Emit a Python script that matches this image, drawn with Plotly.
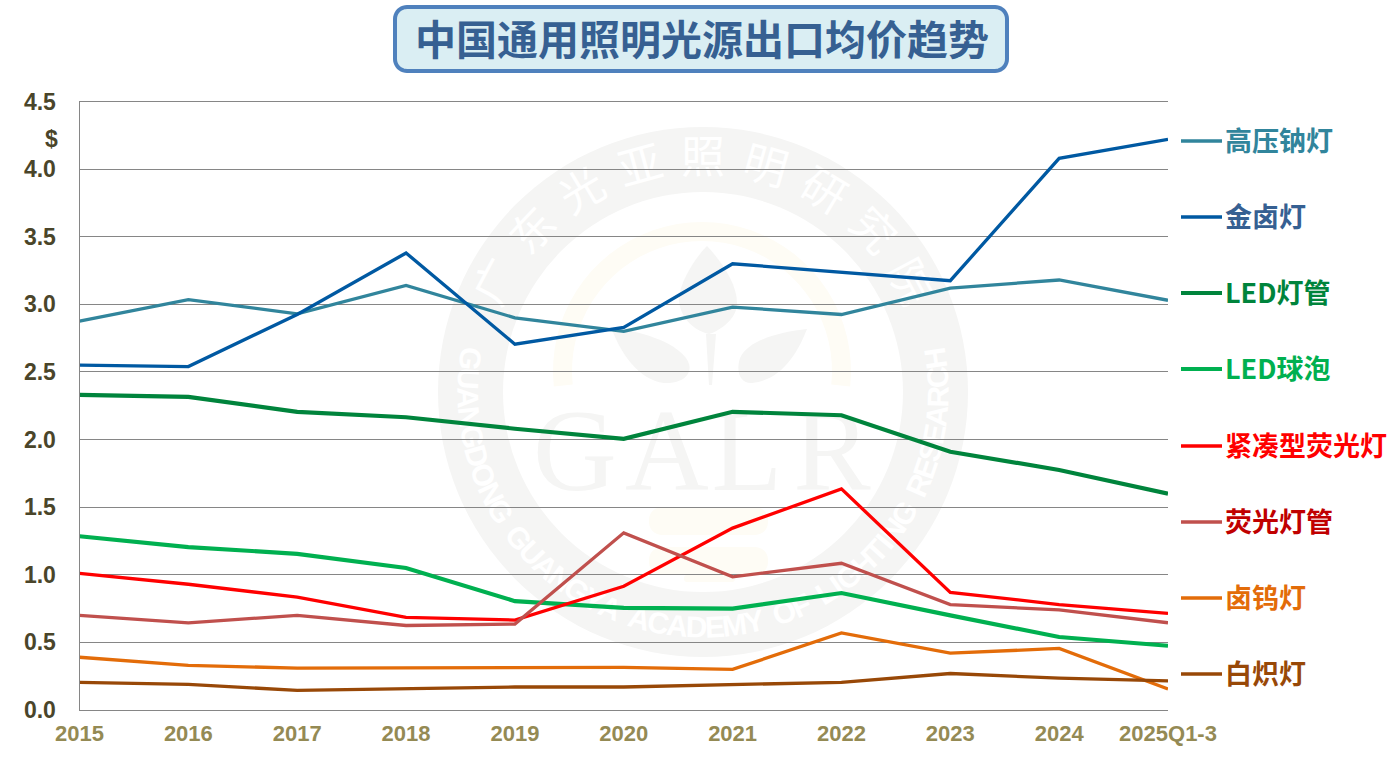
import math
import plotly.graph_objects as go

W, H = 1398, 780

years = ["2015", "2016", "2017", "2018", "2019", "2020", "2021", "2022", "2023", "2024", "2025Q1-3"]

hps_sodium = [2.875, 3.035, 2.93, 3.14, 2.90, 2.80, 2.98, 2.925, 3.12, 3.18, 3.03]
metal_halide = [2.55, 2.54, 2.925, 3.38, 2.705, 2.83, 3.30, 3.235, 3.175, 4.08, 4.22]
led_tube = [2.33, 2.315, 2.205, 2.165, 2.08, 2.005, 2.205, 2.18, 1.91, 1.775, 1.60]
led_bulb = [1.285, 1.205, 1.155, 1.05, 0.805, 0.755, 0.75, 0.865, 0.70, 0.54, 0.475]
cfl = [1.01, 0.93, 0.835, 0.685, 0.665, 0.915, 1.345, 1.635, 0.87, 0.78, 0.715]
fluorescent = [0.70, 0.645, 0.70, 0.625, 0.635, 1.31, 0.985, 1.085, 0.78, 0.74, 0.645]
halogen = [0.39, 0.33, 0.31, 0.31, 0.315, 0.315, 0.30, 0.57, 0.42, 0.455, 0.155]
incandescent = [0.205, 0.19, 0.145, 0.16, 0.17, 0.17, 0.19, 0.205, 0.27, 0.235, 0.215]

series_names = ["高压钠灯", "金卤灯", "LED灯管", "LED球泡", "紧凑型荧光灯", "荧光灯管", "卤钨灯", "白炽灯"]
series_values = [hps_sodium, metal_halide, led_tube, led_bulb, cfl, fluorescent, halogen, incandescent]
line_colors = ["#31859c", "#0059a2", "#00843c", "#00b050", "#ff0000", "#c0504d", "#e36c09", "#984807"]
label_colors = ["#31859c", "#366092", "#00843c", "#00b050", "#ff0000", "#c00000", "#e36c09", "#984807"]
line_widths = [3.3, 3.3, 4.2, 4.2, 3.3, 3.3, 3.3, 3.3]
key_rows_px = [141, 217, 293, 369, 446, 522, 598, 674]

title_text = "中国通用照明光源出口均价趋势"
seal_cn = "广东光亚照明研究院"
seal_en = "GUANGDONG GUANGYA ACADEMY OF LIGHTING RESEARCH"

CJK = "Noto Sans CJK SC"
LATIN = "Liberation Sans"
SEAL_GREY = "#f5f5f4"
SEAL_GOLD = "#fefcf5"


def fx(px):
    return px / W


def fy(px):
    return 1 - px / H


def poly(points):
    return "M " + " L ".join(f"{fx(x):.5f},{fy(y):.5f}" for x, y in points) + " Z"


def curve(*segments):
    # Cubic outline given in pixel coordinates: first item is the start point,
    # the rest are (c1, c2, end) triples.
    start = segments[0]
    path = f"M {fx(start[0]):.5f},{fy(start[1]):.5f}"
    for c1, c2, end in segments[1:]:
        path += " C " + " ".join(f"{fx(p[0]):.5f},{fy(p[1]):.5f}" for p in (c1, c2, end))
    return path + " Z"


def rounded_box(x0, y0, x1, y1, r):
    pts = []
    for cx, cy, a0 in ((x1 - r, y0 + r, -90), (x1 - r, y1 - r, 0), (x0 + r, y1 - r, 90), (x0 + r, y0 + r, 180)):
        for k in range(11):
            a = math.radians(a0 + 9 * k)
            pts.append((cx + r * math.cos(a), cy + r * math.sin(a)))
    return poly(pts)


def circle(cx, cy, r, color):
    return dict(type="circle", xref="paper", yref="paper", layer="below",
                x0=fx(cx - r), x1=fx(cx + r), y0=fy(cy + r), y1=fy(cy - r),
                fillcolor=color, line=dict(width=0))


def blob(path, color):
    return dict(type="path", xref="paper", yref="paper", layer="below",
                path=path, fillcolor=color, line=dict(width=0))


def seal_text(text, cx, cy, size, angle, color, family, weight="normal"):
    # Text carried by an empty shape so that it stays underneath the grid and the lines.
    return dict(type="rect", xref="paper", yref="paper", layer="below",
                x0=fx(cx - 1), x1=fx(cx + 1), y0=fy(cy + 1), y1=fy(cy - 1),
                fillcolor="rgba(0,0,0,0)", line=dict(width=0),
                label=dict(text=text, textangle=angle, textposition="middle center",
                           font=dict(family=family, size=size, color=color, weight=weight)))


RING_X, RING_Y = 703, 392
shapes = [circle(RING_X, RING_Y, 265, SEAL_GREY), circle(RING_X, RING_Y, 200, "#ffffff")]

# Gold arch, cut off flat at its foot
arch = []
for k in range(0, 41):
    a = math.radians(-186 + k * 192 / 40)
    arch.append((702 + 149 * math.cos(a), 371 + 149 * math.sin(a)))
for k in range(40, -1, -1):
    a = math.radians(-186 + k * 192 / 40)
    arch.append((702 + 130 * math.cos(a), 371 + 130 * math.sin(a)))
shapes.append(blob(poly(arch), SEAL_GOLD))

# Three leaves and the stem
shapes.append(blob(curve((707, 246), ((722, 262), (738, 285), (737, 305)), ((736, 318), (722, 330), (709, 334)),
                         ((692, 330), (679, 316), (679, 298)), ((680, 282), (695, 258), (707, 246))), SEAL_GREY))
shapes.append(blob(curve((611, 327), ((640, 332), (672, 340), (686, 358)), ((696, 372), (684, 384), (664, 383)),
                         ((638, 380), (620, 352), (611, 327))), SEAL_GREY))
shapes.append(blob(curve((807, 329), ((780, 332), (748, 340), (740, 358)), ((735, 374), (742, 384), (752, 383)),
                         ((782, 380), (798, 352), (807, 329))), SEAL_GREY))
shapes.append(blob(poly([(706, 334), (716, 334), (712, 385), (709, 385)]), SEAL_GREY))

# Gold bars under the lettering
shapes.append(blob(rounded_box(649, 507, 768, 535, 13), SEAL_GOLD))
shapes.append(blob(rounded_box(649, 547, 768, 575, 13), SEAL_GOLD))
shapes.append(blob(rounded_box(684, 575, 735, 582, 3), SEAL_GOLD))

# Monogram
for letter, x in zip("GALR", (575, 667, 747, 832)):
    shapes.append(seal_text(letter, x, 438, 116, 0, SEAL_GREY, "Liberation Serif"))

# Chinese name along the top of the ring
for i, ch in enumerate(seal_cn):
    a = (i - 4) * 15.5
    rad = math.radians(a)
    shapes.append(seal_text(ch, RING_X + 231 * math.sin(rad), RING_Y - 231 * math.cos(rad),
                            44, a, "#ffffff", CJK))

# English name along the bottom of the ring, advancing by glyph width
advance = {" ": 2.9, "I": 2.3, "M": 5.4, "L": 3.9, "E": 4.2, "C": 4.7, "G": 5.0, "D": 4.7, "O": 5.1, "R": 4.7, "A": 4.7, "H": 4.7, "N": 4.7, "U": 4.7, "S": 4.4, "T": 3.9, "F": 3.9, "Y": 4.4}
total = sum(advance[c] for c in seal_en)
pos = -total / 2
for ch in seal_en:
    step = advance[ch]
    a = pos + step / 2
    pos += step
    if ch == " ":
        continue
    rad = math.radians(a)
    shapes.append(seal_text(ch, RING_X + 232 * math.sin(rad), RING_Y + 232 * math.cos(rad),
                            30, -a, "#ffffff", LATIN, "bold"))

# Title plate
shapes.append(dict(type="path", xref="paper", yref="paper", layer="above",
                   path=rounded_box(395, 7, 1007, 71, 12),
                   fillcolor="#daeef3", line=dict(color="#4f81bd", width=4)))

annotations = [
    dict(text=title_text, x=fx(702), y=fy(37), xref="paper", yref="paper", showarrow=False,
         xanchor="center", yanchor="middle",
         font=dict(family=CJK, size=41, color="#366092", weight="bold")),
    dict(text="$", x=fx(51), y=fy(139), xref="paper", yref="paper", showarrow=False,
         xanchor="center", yanchor="middle",
         font=dict(family=LATIN, size=23, color="#4a452a", weight="bold")),
]

# Direct key on the right-hand side
for name, lc, tc, lw, row in zip(series_names, line_colors, label_colors, line_widths, key_rows_px):
    shapes.append(dict(type="line", xref="paper", yref="paper", layer="above",
                       x0=fx(1181), x1=fx(1222), y0=fy(row), y1=fy(row),
                       line=dict(color=lc, width=lw)))
    annotations.append(dict(text=name, x=fx(1223), y=fy(row - 2), xref="paper", yref="paper",
                            showarrow=False, xanchor="left", yanchor="middle",
                            font=dict(family=CJK, size=27, color=tc, weight="bold")))

fig = go.Figure()
for name, values, color, width in zip(series_names, series_values, line_colors, line_widths):
    fig.add_trace(go.Scatter(x=years, y=values, name=name, mode="lines",
                             line=dict(color=color, width=width), showlegend=False))

fig.update_layout(
    width=W, height=H,
    margin=dict(l=0, r=0, t=0, b=0, autoexpand=False),
    autosize=False,
    paper_bgcolor="#ffffff",
    plot_bgcolor="rgba(0,0,0,0)",
    showlegend=False,
    shapes=shapes,
    annotations=annotations,
)
fig.update_xaxes(
    domain=[fx(79.5), fx(1168)],
    automargin=False,
    type="category",
    categoryorder="array",
    categoryarray=years,
    range=[0, 10],
    showgrid=False,
    zeroline=False,
    showline=True,
    mirror=True,
    linecolor="#868686",
    linewidth=1,
    ticks="",
    ticklabelstandoff=4,
    tickfont=dict(family=LATIN, size=22, color="#948a54", weight="bold"),
)
fig.update_yaxes(
    domain=[fy(710), fy(101.5)],
    automargin=False,
    range=[0, 4.5],
    dtick=0.5,
    tickformat=".1f",
    showgrid=True,
    gridcolor="#868686",
    gridwidth=1,
    zeroline=False,
    showline=True,
    linecolor="#868686",
    linewidth=1,
    ticks="",
    ticklabelstandoff=18,
    tickfont=dict(family=LATIN, size=23, color="#4a452a", weight="bold"),
)

fig.write_html("out.html")
